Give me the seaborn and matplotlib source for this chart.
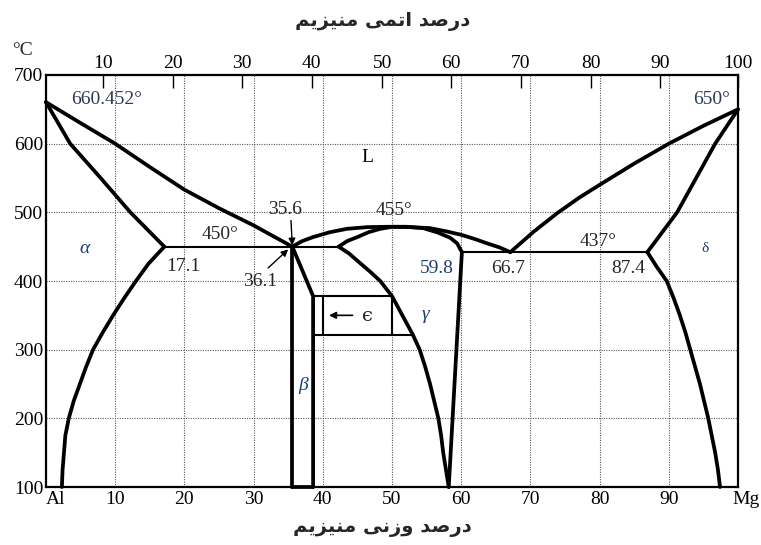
import numpy as np
import pandas as pd
import matplotlib
matplotlib.use("Agg")
import matplotlib.pyplot as plt
from matplotlib.transforms import ScaledTranslation
import seaborn as sns

# ---------------- data (wt% Mg, temperature °C) ----------------
liq_left_wt = [0, 5, 10, 15, 20, 25, 30, 35.6]
liq_left_T = [660.452, 630, 600, 566, 533, 506, 481, 450]

sol_alpha_wt = [0, 3.5, 7.9, 12.2, 17.1]
sol_alpha_T = [660.452, 600, 550, 500, 450]

solv_alpha_wt = [17.1, 15.9, 14.8, 13.0, 11.3, 9.7, 8.2, 6.8, 5.8, 4.9, 4.0,
                 3.3, 2.8, 2.6, 2.4, 2.3]
solv_alpha_T = [450, 437, 425, 400, 375, 350, 325, 300, 275, 250, 225,
                200, 175, 150, 125, 100]

beta_left_wt = [35.6, 35.6]
beta_left_T = [450, 100]
beta_right_wt = [35.6, 38.6, 38.6]
beta_right_T = [450, 378, 100]
beta_bottom_wt = [35.6, 38.6]
beta_bottom_T = [100, 100]

dome_outer_wt = [35.6, 37.0, 38.6, 41.0, 43.5, 46.5, 49.7, 52.5, 55.5, 58.0,
                 60.1, 62.0, 63.7, 65.5, 67.1]
dome_outer_T = [450, 458, 464, 471, 476, 478.5, 479, 478.5, 477, 472,
                467, 461, 455, 449, 442]

dome_inner_wt = [42.3, 43.5, 45.0, 46.6, 48.3, 50.1, 52.0, 54.5, 56.5, 58.4,
                 59.4, 60.1]
dome_inner_T = [450, 458, 464, 471, 476, 479, 479, 477, 471, 463, 455, 442]

gamma_left_wt = [42.3, 43.8, 45.4, 46.9, 48.3, 50.0, 51.5, 53.0, 54.0, 54.8,
                 55.5, 56.1, 56.7, 57.1, 57.4, 57.8, 58.2]
gamma_left_T = [450, 440, 426, 413, 400, 378, 350, 322, 300, 275,
                250, 225, 200, 175, 150, 125, 100]
gamma_right_wt = [60.1, 58.2]
gamma_right_T = [442, 100]

liq_right_wt = [67.1, 70.5, 73.9, 77.0, 80.0, 85.0, 90.0, 95.0, 100]
liq_right_T = [442, 472, 499, 521, 540, 571, 600, 626, 650]

sol_delta_wt = [100, 96.7, 91.2, 86.9]
sol_delta_T = [650, 600, 500, 442]

solv_delta_wt = [86.9, 88.3, 89.7, 90.7, 91.6, 92.4, 93.1, 93.8, 94.5, 95.1,
                 95.7, 96.2, 96.7, 97.1, 97.4]
solv_delta_T = [442, 420, 400, 375, 350, 325, 300, 275, 250, 225,
                200, 175, 150, 125, 100]

# thin lines: eutectic isotherms and epsilon box
eut1_wt = [17.1, 42.3]
eut1_T = [450, 450]
eut2_wt = [60.1, 86.9]
eut2_T = [442, 442]
eps_top_wt = [38.6, 50.0]
eps_top_T = [378, 378]
eps_bot_wt = [38.6, 53.0]
eps_bot_T = [322, 322]
eps_l_wt = [40, 40]
eps_l_T = [322, 378]
eps_r_wt = [50, 50]
eps_r_T = [322, 378]

# axes ticks
bottom_ticks = [0, 10, 20, 30, 40, 50, 60, 70, 80, 90, 100]
bottom_labels = ["Al", "10", "20", "30", "40", "50", "60", "70", "80", "90", "Mg"]
top_tick_pos = [8.2, 18.4, 28.3, 38.4, 48.6, 58.5, 68.6, 78.7, 88.7, 100]
top_tick_labels = ["10", "20", "30", "40", "50", "60", "70", "80", "90", "100"]
y_ticks = [100, 200, 300, 400, 500, 600, 700]

title_top = "درصد اتمی منیزیم"
title_bottom = "درصد وزنی منیزیم"

# ---------------- minimal Arabic-script shaping ----------------
# (isolated, final, initial, medial); right-joining letters have only 2 forms
FORMS = {
    "ا": ("\uFE8D", "\uFE8E"),
    "د": ("\uFEA9", "\uFEAA"),
    "ر": ("\uFEAD", "\uFEAE"),
    "ز": ("\uFEAF", "\uFEB0"),
    "و": ("\uFEED", "\uFEEE"),
    "ص": ("\uFEB9", "\uFEBA", "\uFEBB", "\uFEBC"),
    "ت": ("\uFE95", "\uFE96", "\uFE97", "\uFE98"),
    "م": ("\uFEE1", "\uFEE2", "\uFEE3", "\uFEE4"),
    "ن": ("\uFEE5", "\uFEE6", "\uFEE7", "\uFEE8"),
    "ی": ("\uFEEF", "\uFEF0", "\uFEF3", "\uFEF4"),
}


def shape(text):
    out_words = []
    for word in text.split(" "):
        chars = list(word)
        res = []
        for i, c in enumerate(chars):
            f = FORMS.get(c)
            if f is None:
                res.append(c)
                continue
            prev = chars[i - 1] if i > 0 else None
            nxt = chars[i + 1] if i + 1 < len(chars) else None
            join_prev = prev is not None and prev in FORMS and len(FORMS[prev]) == 4
            join_next = nxt is not None and nxt in FORMS and len(f) == 4
            if join_prev and join_next:
                res.append(f[3])
            elif join_prev:
                res.append(f[1])
            elif join_next:
                res.append(f[2])
            else:
                res.append(f[0])
        out_words.append("".join(reversed(res)))
    return " ".join(reversed(out_words))


# ---------------- build long tables ----------------
thick = [
    ("liq_l", liq_left_wt, liq_left_T),
    ("sol_a", sol_alpha_wt, sol_alpha_T),
    ("solv_a", solv_alpha_wt, solv_alpha_T),
    ("b_l", beta_left_wt, beta_left_T),
    ("b_r", beta_right_wt, beta_right_T),
    ("b_b", beta_bottom_wt, beta_bottom_T),
    ("dome_o", dome_outer_wt, dome_outer_T),
    ("dome_i", dome_inner_wt, dome_inner_T),
    ("g_l", gamma_left_wt, gamma_left_T),
    ("g_r", gamma_right_wt, gamma_right_T),
    ("liq_r", liq_right_wt, liq_right_T),
    ("sol_d", sol_delta_wt, sol_delta_T),
    ("solv_d", solv_delta_wt, solv_delta_T),
]
thin = [
    ("e1", eut1_wt, eut1_T),
    ("e2", eut2_wt, eut2_T),
    ("et", eps_top_wt, eps_top_T),
    ("eb", eps_bot_wt, eps_bot_T),
    ("el", eps_l_wt, eps_l_T),
    ("er", eps_r_wt, eps_r_T),
]


def to_df(curves):
    rows = []
    for name, xs, ys in curves:
        for k, (x, y) in enumerate(zip(xs, ys)):
            rows.append({"curve": name, "order": k, "wt": x, "T": y})
    return pd.DataFrame(rows)


df_thick = to_df(thick)
df_thin = to_df(thin)

# ---------------- figure ----------------
sns.set_theme(style="white")
plt.rcParams["font.family"] = ["Liberation Serif", "DejaVu Serif"]

fig = plt.figure(figsize=(7.61, 5.45), dpi=100)
ax = fig.add_axes([0.0604, 0.1064, 0.9094, 0.756])

sns.lineplot(data=df_thick, x="wt", y="T", units="curve", estimator=None,
             sort=False, color="black", lw=2.7, ax=ax, legend=False,
             solid_joinstyle="round")
sns.lineplot(data=df_thin, x="wt", y="T", units="curve", estimator=None,
             sort=False, color="black", lw=1.5, ax=ax, legend=False)
for ln in ax.lines:
    ln.set_clip_on(False)

ax.set_xlim(0, 100)
ax.set_ylim(100, 700)
ax.set_xlabel("")
ax.set_ylabel("")

ax.set_xticks(bottom_ticks)
ax.set_xticklabels(bottom_labels)
ax.set_yticks(y_ticks)
ax.tick_params(axis="x", length=0, labelsize=14, pad=3, colors="black")
ax.tick_params(axis="y", direction="in", length=5, labelsize=14, pad=2,
               colors="black")
xl = ax.get_xticklabels()
xl[0].set_transform(xl[0].get_transform()
                    + ScaledTranslation(0.10, 0, fig.dpi_scale_trans))
xl[-1].set_transform(xl[-1].get_transform()
                     + ScaledTranslation(0.08, 0, fig.dpi_scale_trans))

ax.grid(True, which="major", ls=(0, (1, 1.2)), lw=0.8, color="#5a5a5a")
ax.set_axisbelow(True)
for sp in ax.spines.values():
    sp.set_visible(True)
    sp.set_color("black")
    sp.set_linewidth(1.6)

ax2 = ax.twiny()
ax2.set_xlim(0, 100)
ax2.set_xticks(top_tick_pos)
ax2.set_xticklabels(top_tick_labels)
ax2.tick_params(axis="x", direction="in", length=9, width=1.0, labelsize=14,
                pad=2, colors="black")
ax2.grid(False)
for sp in ax2.spines.values():
    sp.set_visible(False)

blue = "#1c3f6e"
fs = 14

# annotations
ax.text(8.8, 664, "660.452°", fontsize=fs, color="#2a3a55", ha="center", va="center")
ax.text(96.2, 665, "650°", fontsize=fs, color="#2a3a55", ha="center", va="center")
ax.text(46.4, 580, "L", fontsize=fs, color="black", ha="center", va="center")
ax.text(34.6, 504, "35.6", fontsize=fs, ha="center", va="center")
ax.annotate("", xy=(35.6, 452), xytext=(35.4, 488),
            arrowprops=dict(arrowstyle="-|>", color="black", lw=1.0,
                            mutation_scale=10, shrinkA=0, shrinkB=0))
ax.text(50.3, 502, "455°", fontsize=fs, ha="center", va="center")
ax.text(25.1, 468, "450°", fontsize=fs, ha="center", va="center")
ax.text(19.8, 421, "17.1", fontsize=fs, ha="center", va="center")
ax.text(31.0, 399, "36.1", fontsize=fs, ha="center", va="center")
ax.annotate("", xy=(35.0, 446), xytext=(32.1, 419),
            arrowprops=dict(arrowstyle="-|>", color="black", lw=1.0,
                            mutation_scale=10, shrinkA=0, shrinkB=0))
ax.text(56.5, 418, "59.8", fontsize=fs, color=blue, ha="center", va="center")
ax.text(66.8, 418, "66.7", fontsize=fs, ha="center", va="center")
ax.text(79.8, 458, "437°", fontsize=fs, ha="center", va="center")
ax.text(84.1, 418, "87.4", fontsize=fs, ha="center", va="center")
ax.text(5.6, 447, "α", fontsize=fs, color=blue, style="italic", ha="center", va="center")
ax.text(37.1, 248, "β", fontsize=fs, color=blue, style="italic", ha="center", va="center")
ax.text(54.8, 351, "γ", fontsize=fs, color=blue, style="italic", ha="center", va="center")
ax.text(95.3, 447, "δ", fontsize=11, color=blue, ha="center", va="center")
ax.annotate("", xy=(40.9, 350), xytext=(44.3, 350),
            arrowprops=dict(arrowstyle="-|>", color="black", lw=1.2,
                            mutation_scale=10, shrinkA=0, shrinkB=0))
ax.text(46.4, 349, "ϵ", fontsize=fs, family=["DejaVu Serif"], ha="center", va="center")

fig.text(0.029, 0.908, "°C", fontsize=14, ha="center", va="center")
fig.text(0.503, 0.960, shape(title_top), fontsize=14, fontweight="bold",
         family=["DejaVu Sans"], ha="center", va="center")
fig.text(0.503, 0.033, shape(title_bottom), fontsize=14, fontweight="bold",
         family=["DejaVu Sans"], ha="center", va="center")

fig.savefig("out.png", dpi=100)
